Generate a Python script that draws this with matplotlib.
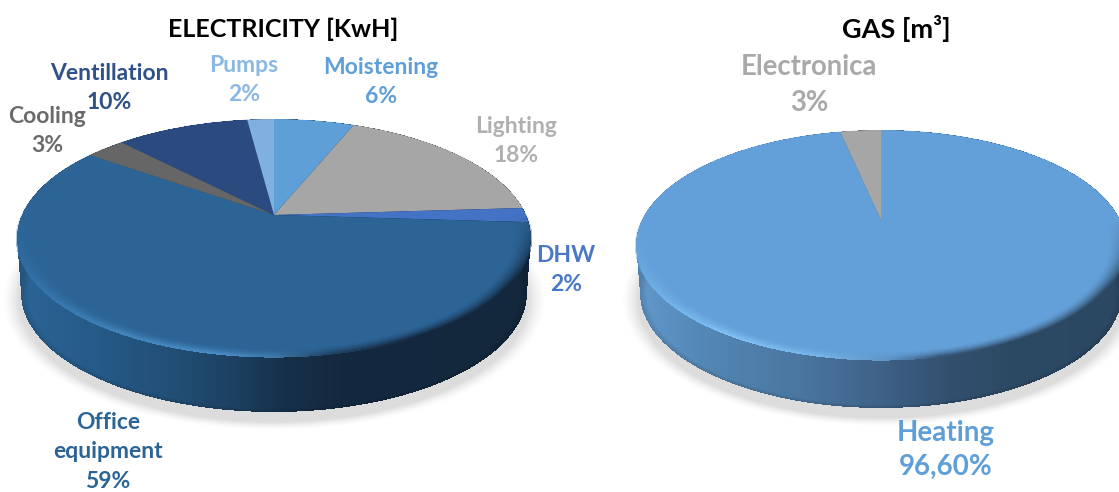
import matplotlib
matplotlib.use('Agg')
import matplotlib.pyplot as plt
import numpy as np
from matplotlib.colors import to_rgb
from matplotlib.patches import Ellipse
from matplotlib.transforms import Affine2D

plt.rcParams['font.family'] = ['Lato', 'DejaVu Sans']

WIDTH, HEIGHT = 1119, 492

# Electricity use
elec_labels = ['Moistening', 'Lighting', 'DHW', 'Office\nequipment', 'Cooling', 'Ventillation', 'Pumps']
elec_values = [6, 18, 2, 59, 3, 10, 2]
elec_colors = ['#5f9fd8', '#a6a6a6', '#4472c4', '#2c6496', '#666666', '#2b4b80', '#7fb0de']
elec_text = ['#5f9fd8', '#b0b0b0', '#4a78c8', '#2c6496', '#6a6a6a', '#2f5088', '#8ab8e2']

# Gas use
gas_labels = ['Heating', 'Electronica']
gas_values = [96.6, 3.4]
gas_shown = ['96,60%', '3%']
gas_colors = ['#639fd8', '#a6a6a6']
gas_text = ['#5f9fd8', '#a9a9a9']


def interp_colors(xs, stops):
    pos = [s[0] for s in stops]
    rgb = np.array([to_rgb(s[1]) for s in stops])
    return np.stack([np.interp(xs, pos, rgb[:, i]) for i in range(3)], axis=-1)


def draw_pie(ax, values, colors, apex, top, bottom, scale_y, side_stops, rim_stops):
    # top = (cx, cy, rx, ry) of the upper face, bottom = same for the lower face
    cx, cy, rx, ry = top
    bx, by, brx, bry = bottom
    xx, yy = np.meshgrid(np.arange(WIDTH) + 0.5, np.arange(HEIGHT) + 0.5)

    # soft shadow on the page
    d = np.hypot((xx - bx) / (brx + 4), (yy - by - 7) / (bry + 4))
    shadow = np.zeros((HEIGHT, WIDTH, 4))
    shadow[..., :3] = 0.55
    shadow[..., 3] = 0.3 * np.clip((1.06 - d) / 0.07, 0, 1) ** 1.5
    ax.imshow(shadow, extent=(0, WIDTH, HEIGHT, 0), zorder=1, aspect='auto')

    # side wall: horizontal gradient inside the sweep between both faces
    in_bottom = np.hypot((xx - bx) / brx, (yy - by) / bry) <= 1
    in_top = np.hypot((xx - cx) / rx, (yy - cy) / ry) <= 1
    in_band = (yy > cy) & (yy < by) & (np.abs(xx - cx) <= rx - (yy - cy) / (by - cy) * (rx - brx))
    wall = np.zeros((HEIGHT, WIDTH, 4))
    wall[..., :3] = interp_colors(xx, side_stops)
    # small darkening close to the lower edge
    edge = np.clip((np.hypot((xx - bx) / brx, (yy - by) / bry) - 0.97) / 0.03, 0, 1)
    wall[..., :3] *= (1 - 0.15 * edge)[..., None]
    wall[..., 3] = (in_bottom | in_top | in_band).astype(float)
    ax.imshow(wall, extent=(0, WIDTH, HEIGHT, 0), zorder=2, aspect='auto')

    # upper face
    face = Ellipse((cx, cy), 2 * rx, 2 * ry, facecolor='none', edgecolor='none', transform=ax.transData)
    ax.add_patch(face)
    wedges, _ = ax.pie(values, colors=colors, startangle=90, counterclock=False, radius=2)
    squash = Affine2D().scale(rx, -scale_y).translate(*apex) + ax.transData
    for w in wedges:
        w.set_transform(squash)
        w.set_clip_on(True)
        w.set_clip_path(face)
        w.set_zorder(3)
        w.set_linewidth(0)

    # bevel along the front rim
    d = np.hypot((xx - cx) / rx, (yy - cy) / ry)
    rim = np.zeros((HEIGHT, WIDTH, 4))
    rim[..., :3] = interp_colors(xx, rim_stops)
    front = np.clip((yy - cy + 25) / 70, 0, 1)
    rim[..., 3] = np.where(d <= 1.005, np.clip((d - 0.925) / 0.07, 0, 1) ** 1.6 * front, 0)
    ax.imshow(rim, extent=(0, WIDTH, HEIGHT, 0), zorder=4, aspect='auto')


fig = plt.figure(figsize=(WIDTH / 100, HEIGHT / 100), dpi=100)
ax = fig.add_axes([0, 0, 1, 1])

draw_pie(ax, elec_values, elec_colors, (274, 215), (274, 238, 257, 119), (274, 293, 253, 119), 115,
         [(17, '#2b6597'), (100, '#265a87'), (180, '#214d74'), (240, '#1c3f5f'), (285, '#16304a'), (340, '#14293f'), (530, '#13283d')],
         [(17, '#2f6fa5'), (120, '#4384bb'), (220, '#4a8cc6'), (275, '#3f78a8'), (330, '#1f4465'), (410, '#14293f'), (530, '#13283d')])

draw_pie(ax, gas_values, gas_colors, (881, 220), (881, 245, 245, 115), (881, 293, 241, 115), 115,
         [(636, '#6299cc'), (700, '#5488b6'), (800, '#4a76a0'), (880, '#3f6288'), (950, '#324f6e'), (1010, '#2d4a64'), (1126, '#2b4862')],
         [(636, '#6aaae2'), (730, '#80c0f5'), (820, '#78b4e8'), (890, '#5d93c4'), (940, '#38597a'), (1010, '#2d4a64'), (1126, '#2b4862')])

ax.set_xlim(0, WIDTH)
ax.set_ylim(HEIGHT, 0)
ax.set_aspect('auto')
ax.set_position([0, 0, 1, 1])
ax.axis('off')

# titles
ax.text(283, 29, 'ELECTRICITY [KwH]', ha='center', va='center', fontsize=18, fontweight='bold', color='black', zorder=6)
ax.text(896, 29, 'GAS [m³]', ha='center', va='center', fontsize=19.5, fontweight='bold', color='black', zorder=6)

# data labels
elec_label_pos = [(381, 82), (516, 141), (566, 270), (108, 452), (47, 131), (109, 88), (244, 80)]
for name, val, col, (x, y) in zip(elec_labels, elec_values, elec_text, elec_label_pos):
    ax.text(x, y, f'{name}\n{val}%', ha='center', va='center', fontsize=16.5, fontweight='bold',
            color=col, linespacing=1.5, zorder=6)

gas_label_pos = [(946, 450), (809, 85)]
gas_sizes = [20, 19.8]
gas_spacing = [1.36, 1.45]
for name, val, col, (x, y), fs, ls in zip(gas_labels, gas_shown, gas_text, gas_label_pos, gas_sizes, gas_spacing):
    ax.text(x, y, f'{name}\n{val}', ha='center', va='center', fontsize=fs, fontweight='bold',
            color=col, linespacing=ls, zorder=6)

fig.savefig('out.png', dpi=100)
